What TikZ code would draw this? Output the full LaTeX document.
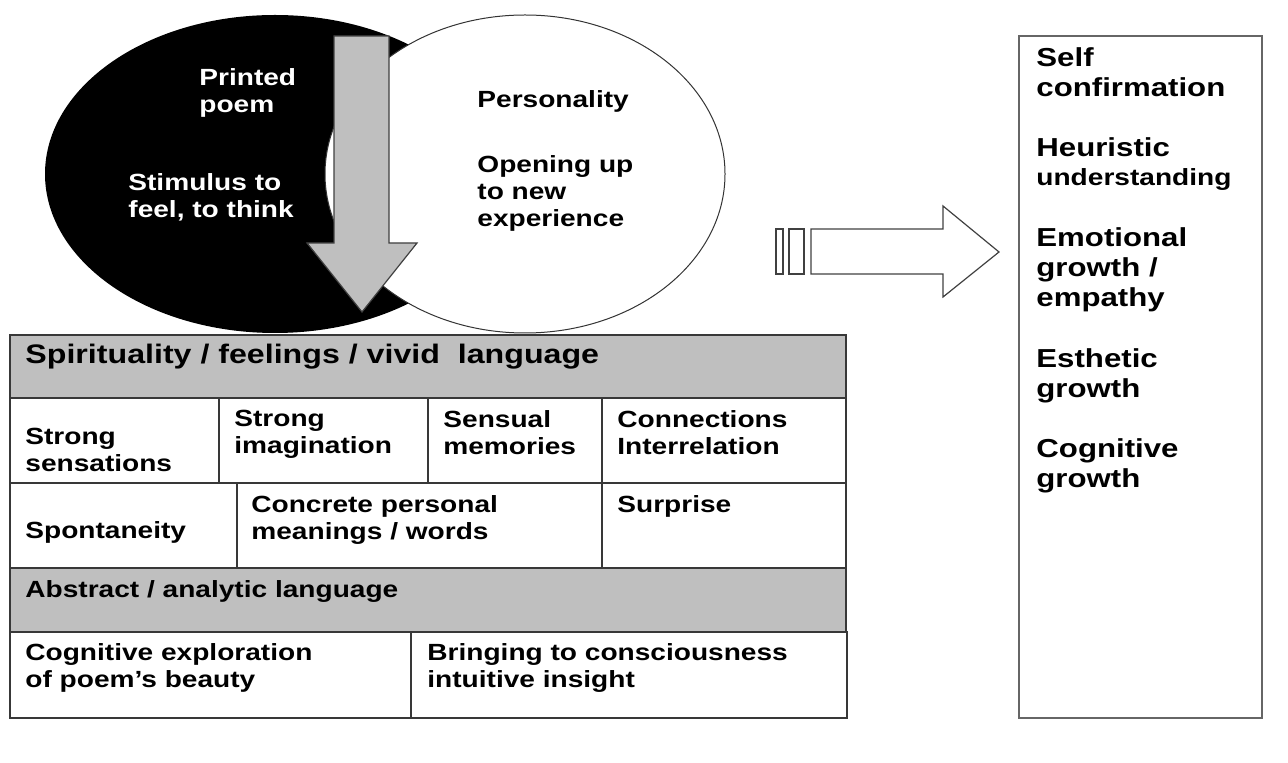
\documentclass[tikz,border=0pt]{standalone}
\usepackage{fontspec}
\setmainfont{Liberation Sans}[FakeStretch=1.2]
\usetikzlibrary{shapes.geometric}

\begin{document}
\begin{tikzpicture}[
  x=0.5pt, y=-0.5pt,
  blob/.style={ellipse, inner sep=0pt, minimum width=230pt, minimum height=159pt},
  cell/.style={draw=black!78, line width=0.75pt},
  hdrcell/.style={cell, fill=black!25},
  blockarrow/.style={draw=black!75, line width=0.6pt, line join=miter},
  txt/.style={anchor=north west, inner sep=0pt, align=left, font=\bfseries\fontsize{11.7}{13.5}\selectfont},
  bigtxt/.style={txt, font=\bfseries\fontsize{13}{15}\selectfont}
]
\useasboundingbox (0,0) rectangle (1288,763);

% Overlapping ellipses: poem (black) and reader (white)
\node[blob, fill=black] (poem) at (275,174) {};
\node[blob, fill=white, draw=black!80, line width=0.5pt, minimum width=200pt] (reader) at (525,174) {};

% Gray down arrow
\draw[blockarrow, fill=black!25] (334,36) -- (389,36) -- (389,243) -- (417,243)
  -- (362,312) -- (307,243) -- (334,243) -- cycle;

\node[txt, text=white] (printed) at (199,68) {Printed\\poem};
\node[txt, text=white] (stimulus) at (128,173) {Stimulus to\\feel, to think};
\node[txt] (personality) at (477,90) {Personality};
\node[txt] (opening) at (477,155) {Opening up\\to new\\experience};

% Table of responses
\draw[hdrcell] (10,335) rectangle (846,398);
\foreach \a/\b in {10/219, 219/428, 428/602, 602/846}
  \draw[cell] (\a,398) rectangle (\b,483);
\foreach \a/\b in {10/237, 237/602, 602/846}
  \draw[cell] (\a,483) rectangle (\b,568);
\draw[hdrcell] (10,568) rectangle (846,632);
\draw[cell] (10,632) rectangle (411,718);
\draw[cell] (411,632) rectangle (847,718);

\node[txt, font=\bfseries\fontsize{13.4}{15}\selectfont] (spirit) at (25,344) {Spirituality / feelings / vivid\ \ language};
\node[txt] (sensations) at (25,428) {Strong\\sensations};
\node[txt] (imagination) at (234,410) {Strong\\imagination};
\node[txt] (sensual) at (443,410) {Sensual\\memories};
\node[txt] (connect) at (617,410) {Connections\\Interrelation};
\node[txt] (spont) at (25,521) {Spontaneity};
\node[txt] (concrete) at (251,495) {Concrete personal\\meanings / words};
\node[txt] (surprise) at (617,495) {Surprise};
\node[txt] (abstract) at (25,580) {Abstract / analytic language};
\node[txt] (cogexpl) at (25,643) {Cognitive exploration\\of poem’s beauty};
\node[txt] (bringing) at (427,643) {Bringing to consciousness\\intuitive insight};

% Hollow arrow towards outcomes
\draw[blockarrow] (776,229) rectangle (783,274);
\draw[blockarrow] (789,229) rectangle (804,274);
\draw[blockarrow] (811,229) -- (943,229) -- (943,206) -- (999,252)
  -- (943,297) -- (943,274) -- (811,274) -- cycle;

% Outcomes column
\draw[draw=black!60, line width=0.6pt] (1019,36) rectangle (1262,718);
\node[bigtxt] (selfconf) at (1036,47) {Self\\confirmation};
\node[bigtxt] (heuristic) at (1036,137) {Heuristic\\[-0.4pt]{\fontsize{11.7}{13.5}\selectfont understanding}};
\node[bigtxt] (emotional) at (1036,227) {Emotional\\growth /\\empathy};
\node[bigtxt] (esthetic) at (1036,348) {Esthetic\\growth};
\node[bigtxt] (cognitive) at (1036,438) {Cognitive\\growth};
\end{tikzpicture}
\end{document}
